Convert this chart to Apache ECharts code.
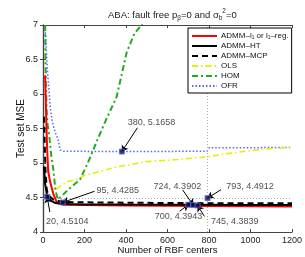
<!DOCTYPE html>
<html><head><meta charset="utf-8">
<script src="https://cdn.jsdelivr.net/npm/echarts@6/dist/echarts.min.js"></script>
<style>html,body{margin:0;padding:0;background:#fff}#c{width:305px;height:257px}</style>
</head><body><div id="c"></div>
<script>
// ---- data ----
const xTicks = [0, 200, 400, 600, 800, 1000, 1200];
const yTicks = [4, 4.5, 5, 5.5, 6, 6.5, 7];
const seriesNames = ['ADMM–l₁ or l₁–reg.', 'ADMM–HT', 'ADMM–MCP', 'OLS', 'HOM', 'OFR'];
const admmL1 = [[10,6.27],[12,6.05],[16,5.6],[20,5.2],[25,4.88],[35,4.72],[50,4.55],[65,4.44],[80,4.41],[100,4.395],[200,4.39],[400,4.385],[600,4.38],[800,4.375],[1000,4.372],[1200,4.37]];
const admmHT = [[5,4.95],[10,4.7],[20,4.52],[40,4.45],[60,4.42],[95,4.405],[200,4.4],[400,4.397],[700,4.394],[1000,4.393],[1200,4.393]];
const admmMCP = [[5,5.67],[8,5.3],[12,4.9],[18,4.62],[25,4.53],[50,4.47],[95,4.435],[200,4.43],[400,4.425],[600,4.42],[800,4.418],[1200,4.415]];
const ols = [[15,4.55],[25,4.52],[40,4.55],[58,4.6],[90,4.68],[120,4.73],[170,4.77],[200,4.82],[250,4.86],[350,4.94],[500,5.02],[650,5.05],[790,5.09],[900,5.14],[1000,5.18],[1100,5.21],[1200,5.23]];
const hom = [[10,7.2],[12,6.5],[15,6.0],[20,5.6],[30,5.4],[40,5.1],[50,4.9],[60,4.6],[72,4.47],[120,4.61],[178,4.76],[216,5.0],[260,5.32],[300,5.6],[355,5.96],[403,6.6],[441,6.88],[475,7.0],[520,7.3]];
const ofr = [[5,7.3],[10,7.0],[15,6.7],[20,6.4],[25,6.2],[35,5.8],[45,5.6],[58,5.45],[73,5.34],[82,5.19],[100,5.17],[380,5.1658],[790,5.17],[800,5.22],[1000,5.222],[1200,5.225]];
const markedPoints = [[20,4.5104],[95,4.4285],[380,5.1658],[700,4.3943],[724,4.3902],[745,4.3839],[793,4.4912]];
const refX = 793, refY = 4.4912;

// ---- layout of annotation texts (data units) ----
const textAnchors = [[14.5,4.15],[258,4.60],[408,5.58],[538,4.226],[533,4.661],[810,4.154],[883,4.661]];
const arrowStarts = [[33,4.29],[248,4.59],[455,5.51],[658,4.30],[673,4.61],[778,4.226],[858,4.613]];

const FONT = '"Liberation Sans", Arial, sans-serif';
const chart = echarts.init(document.getElementById('c'), null, {renderer:'canvas'});

function lineSeries(name, data, color, width, type, z) {
  return {name, type:'line', data, symbol:'none', smooth:false, z,
    lineStyle:{color, width, type}, itemStyle:{color}, clip:true};
}

// measure title width so that it is centred over the plot area
const mc = document.createElement('canvas').getContext('2d');
mc.font = '9.5px ' + FONT;
let tw = mc.measureText('ABA: fault free p=0 and σ=0').width;
mc.font = '6.5px ' + FONT;
tw += mc.measureText('βb2').width;
const plotCenter = 43 + (305 - 43 - 13) / 2;

const axisLineStyle = {color:'#444', width:1.2};
chart.setOption({
  animation:false,
  textStyle:{fontFamily:FONT},
  title:{
    text:'ABA: fault free p{s|β}=0 and σ{s|b}{p|2}=0',
    left:Math.round(plotCenter - tw / 2), top:3,
    textStyle:{fontSize:9.5, fontWeight:'normal', color:'#222', fontFamily:FONT, lineHeight:14,
      rich:{s:{fontSize:6.5, lineHeight:8, verticalAlign:'bottom', fontFamily:FONT, color:'#222'},
            p:{fontSize:6.5, lineHeight:8, verticalAlign:'top', fontFamily:FONT, color:'#222'}}}
  },
  legend:{
    data:seriesNames, orient:'vertical', left:188, top:28,
    itemWidth:25, itemHeight:8, itemGap:2, padding:[4,3,3,3],
    backgroundColor:'#fff', borderColor:'#000', borderWidth:1,
    itemStyle:{opacity:0},
    textStyle:{fontSize:8, color:'#111', fontFamily:FONT, padding:[0,0,0,-1]}, z:20
  },
  grid:{left:43, right:13, top:25, bottom:25, outerBoundsMode:'none', containLabel:false},
  xAxis:[{
    type:'value', min:xTicks[0], max:xTicks[xTicks.length-1], interval:200,
    name:'Number of RBF centers', nameLocation:'middle', nameGap:13, nameMoveOverlap:false,
    nameTextStyle:{fontSize:9.5, color:'#111', fontFamily:FONT},
    axisLine:{show:true, lineStyle:axisLineStyle},
    axisTick:{show:true, inside:true, length:3, lineStyle:{color:'#444'}},
    axisLabel:{fontSize:9, color:'#222', margin:4, fontFamily:FONT, formatter:(v)=>String(v)},
    splitLine:{show:false}
  },{
    type:'value', position:'top', min:xTicks[0], max:xTicks[xTicks.length-1], interval:200,
    axisLine:{show:true, lineStyle:axisLineStyle},
    axisTick:{show:true, inside:true, length:3, lineStyle:{color:'#444'}},
    axisLabel:{show:false}, splitLine:{show:false}
  }],
  yAxis:[{
    type:'value', min:yTicks[0], max:yTicks[yTicks.length-1], interval:0.5,
    name:'Test set MSE', nameLocation:'middle', nameGap:17, nameMoveOverlap:false,
    nameTextStyle:{fontSize:10, color:'#111', fontFamily:FONT},
    axisLine:{show:true, lineStyle:axisLineStyle},
    axisTick:{show:true, inside:true, length:3, lineStyle:{color:'#444'}},
    axisLabel:{fontSize:9, color:'#222', margin:5, fontFamily:FONT},
    splitLine:{show:false}
  },{
    type:'value', position:'right', min:yTicks[0], max:yTicks[yTicks.length-1], interval:0.5,
    axisLine:{show:true, lineStyle:axisLineStyle},
    axisTick:{show:true, inside:true, length:3, lineStyle:{color:'#444'}},
    axisLabel:{show:false}, splitLine:{show:false}
  }],
  series:[
    {type:'line', data:[], silent:true, z:1,
      markLine:{silent:true, symbol:['none','none'], label:{show:false},
        lineStyle:{color:'#aaa', width:1, type:[1,2]},
        data:[{xAxis:refX},{yAxis:refY}]}},
    lineSeries(seriesNames[5], ofr, '#5566ff', 1.5, [1.5,2], 2),
    lineSeries(seriesNames[3], ols, '#e4f000', 1.6, [6,3,1.5,3], 3),
    lineSeries(seriesNames[4], hom, '#22aa22', 2, [6,3,2,3], 4),
    lineSeries(seriesNames[0], admmL1, '#ff0000', 2, 'solid', 5),
    lineSeries(seriesNames[1], admmHT, '#000000', 2, 'solid', 6),
    lineSeries(seriesNames[2], admmMCP, '#000000', 2, [6,4], 7),
    {type:'scatter', data:markedPoints, symbol:'rect', symbolSize:5, z:9, silent:true,
      itemStyle:{color:'#10104a', borderColor:'#5a6ae0', borderWidth:1},
      markLine:{silent:true, symbol:['none','arrow'], symbolSize:6, label:{show:false},
        lineStyle:{color:'#000', width:1, type:'solid'},
        data:markedPoints.map((p,i)=>[{coord:arrowStarts[i]},{coord:p}])}},
    {type:'scatter', data:textAnchors.map((a,i)=>({value:a, pt:markedPoints[i]})), symbolSize:0, z:10, silent:true,
      label:{show:true, position:'right', distance:0, fontSize:9, color:'#222', fontFamily:FONT,
        formatter:(p)=>p.data.pt[0]+', '+p.data.pt[1].toFixed(4)}}
  ]
});
</script></body></html>
